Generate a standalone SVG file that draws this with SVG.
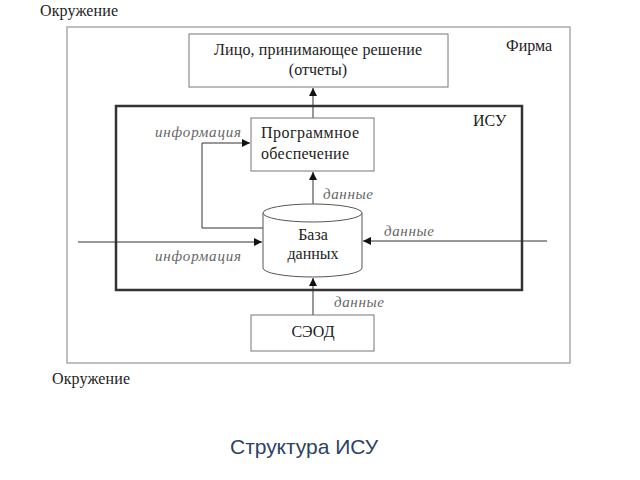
<svg xmlns="http://www.w3.org/2000/svg" width="640" height="480" viewBox="0 0 640 480">
<defs>
<marker id="ah" viewBox="0 0 10 10" refX="10" refY="5" markerWidth="8" markerHeight="8" markerUnits="userSpaceOnUse" orient="auto">
<path d="M0,0 L10,5 L0,10 z" fill="#111"/>
</marker>
<style>
.lbl{font-family:"Liberation Serif","DejaVu Serif",serif;font-size:16px;fill:#222}
.it{font-family:"Liberation Serif","DejaVu Serif",serif;font-size:15px;font-style:italic;fill:#666}
.box{fill:#fff;stroke:#777;stroke-width:1}
.ln{fill:none;stroke:#333;stroke-width:1}
</style>
</defs>
<rect width="640" height="480" fill="#fff"/>
<text class="lbl" x="40" y="16" textLength="78">Окружение</text>
<text class="lbl" x="52" y="384" textLength="78">Окружение</text>
<g id="firm">
<rect x="67" y="27" width="503" height="336" fill="none" stroke="#aaa" stroke-width="1.5"/>
<text class="lbl" x="506" y="51">Фирма</text>
</g>
<g id="isu">
<rect x="116" y="106" width="406" height="184" fill="none" stroke="#333" stroke-width="2.5"/>
<text class="lbl" x="473" y="126">ИСУ</text>
</g>
<g id="connectors">
<line class="ln" x1="313" y1="118" x2="313" y2="88" marker-end="url(#ah)"/>
<line class="ln" x1="313" y1="204" x2="313" y2="172" marker-end="url(#ah)"/>
<polyline class="ln" points="263,228 202,228 202,143 250,143" marker-end="url(#ah)"/>
<line class="ln" x1="78" y1="242" x2="262" y2="242" marker-end="url(#ah)"/>
<line class="ln" x1="547" y1="241" x2="363" y2="241" marker-end="url(#ah)"/>
<line class="ln" x1="313" y1="315" x2="313" y2="278" marker-end="url(#ah)"/>
<text class="it" x="155" y="137" textLength="86">информация</text>
<text class="it" x="155" y="261" textLength="86">информация</text>
<text class="it" x="323" y="199" textLength="50">данные</text>
<text class="it" x="384" y="236" textLength="50">данные</text>
<text class="it" x="334" y="307" textLength="50">данные</text>
</g>
<g id="decision">
<rect class="box" x="189" y="34" width="259" height="53"/>
<text class="lbl" x="318" y="55" text-anchor="middle" textLength="208">Лицо, принимающее решение</text>
<text class="lbl" x="318" y="75" text-anchor="middle">(отчеты)</text>
</g>
<g id="software">
<rect class="box" x="251" y="118" width="123" height="53"/>
<text class="lbl" x="261" y="138" textLength="98">Программное</text>
<text class="lbl" x="261" y="159" textLength="88">обеспечение</text>
</g>
<g id="database">
<path d="M263,213 L263,268 A49.5,9 0 0 0 362,268 L362,213" fill="#fff" stroke="#555" stroke-width="1"/>
<ellipse cx="312.5" cy="213" rx="49.5" ry="9" fill="#fff" stroke="#555" stroke-width="1"/>
<text class="lbl" x="313" y="240" text-anchor="middle">База</text>
<text class="lbl" x="313" y="259" text-anchor="middle">данных</text>
</g>
<g id="seod">
<rect class="box" x="251" y="315" width="123" height="36"/>
<text class="lbl" x="313" y="337" text-anchor="middle">СЭОД</text>
</g>
<text x="304" y="454" text-anchor="middle" font-family="'Liberation Sans','Open Sans',sans-serif" font-size="21" fill="#2c4266" textLength="148">Структура ИСУ</text>
</svg>
